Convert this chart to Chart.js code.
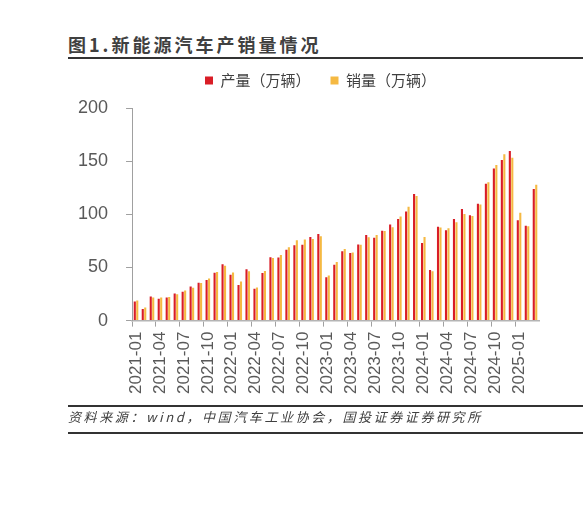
<!DOCTYPE html>
<html lang="zh-CN">
<head>
    <meta charset="UTF-8">
    <title>新能源汽车产销量情况</title>
    <style>
        body {
            margin: 0;
            padding: 0;
            background: #ffffff;
            font-family: "Noto Sans CJK SC", sans-serif;
        }

        .page {
            position: relative;
            width: 588px;
            height: 524px;
            overflow: hidden;
        }

        .title {
            position: absolute;
            left: 68px;
            top: 35px;
            font-size: 18px;
            line-height: 18px;
            font-weight: bold;
            letter-spacing: 3px;
            color: #404040;
            white-space: nowrap;
        }

        .rule {
            position: absolute;
            left: 68px;
            width: 515px;
            background: #333333;
        }

        .source {
            position: absolute;
            left: 68px;
            top: 410px;
            font-size: 13px;
            line-height: 14px;
            font-style: italic;
            letter-spacing: 2.6px;
            color: #404040;
            white-space: nowrap;
        }

        #chart {
            position: absolute;
            left: 0;
            top: 0;
        }
    </style>
</head>
<body>
    <div class="page">
        <div class="title">图1.新能源汽车产销量情况</div>
        <div class="rule" style="top: 57px; height: 2px;"></div>
        <canvas id="chart" width="588" height="524"></canvas>
        <div class="rule" style="top: 405px; height: 2px;"></div>
        <div class="source">资料来源：wind，中国汽车工业协会，国投证券证券研究所</div>
        <div class="rule" style="top: 432px; height: 2px;"></div>
    </div>

    <script src="https://cdn.jsdelivr.net/npm/chart.js"></script>
    <script>
        const months = [
            '2021-01', '2021-02', '2021-03', '2021-04', '2021-05', '2021-06',
            '2021-07', '2021-08', '2021-09', '2021-10', '2021-11', '2021-12',
            '2022-01', '2022-02', '2022-03', '2022-04', '2022-05', '2022-06',
            '2022-07', '2022-08', '2022-09', '2022-10', '2022-11', '2022-12',
            '2023-01', '2023-02', '2023-03', '2023-04', '2023-05', '2023-06',
            '2023-07', '2023-08', '2023-09', '2023-10', '2023-11', '2023-12',
            '2024-01', '2024-02', '2024-03', '2024-04', '2024-05', '2024-06',
            '2024-07', '2024-08', '2024-09', '2024-10', '2024-11', '2024-12',
            '2025-01', '2025-02', '2025-03'
        ];

        // red bars (legend: 产量)
        const redSeries = [
            17.9, 11.0, 22.6, 20.6, 21.7, 25.6, 27.1, 32.1, 35.7, 38.3, 45.0, 53.1,
            43.1, 33.4, 48.4, 29.9, 44.7, 59.6, 59.3, 66.6, 70.8, 71.4, 78.6, 81.4,
            40.8, 52.5, 65.3, 63.6, 71.7, 80.6, 78.0, 84.6, 90.4, 95.6, 102.6, 119.1,
            72.9, 47.7, 88.3, 85.0, 95.5, 104.9, 99.1, 110.0, 128.7, 143.0, 151.2, 159.6,
            94.4, 89.2, 123.7
        ];

        // yellow bars (legend: 销量)
        const yellowSeries = [
            19.0, 12.4, 21.7, 21.7, 22.2, 24.8, 28.4, 30.9, 35.3, 39.7, 45.7, 51.7,
            45.2, 36.8, 46.5, 31.2, 46.6, 59.0, 61.7, 69.1, 75.5, 76.2, 76.8, 79.4,
            42.5, 55.2, 67.4, 64.0, 71.3, 78.4, 80.5, 84.3, 87.9, 98.0, 107.0, 117.2,
            78.7, 46.5, 87.6, 87.0, 92.5, 100.3, 98.4, 109.2, 130.1, 146.3, 156.6, 153.3,
            101.5, 88.8, 127.7
        ];

        const seriesNames = ['产量（万辆）', '销量（万辆）'];
        const yTicks = [0, 50, 100, 150, 200];

        const axisGray = '#a0a0a0';
        const textGray = '#595959';

        // extra room under the legend, and nudge it right a little
        const legendTweak = {
            id: 'legendTweak',
            beforeInit(chart) {
                const legend = chart.legend;
                const fit = legend.fit;
                legend.fit = function () {
                    fit.call(this);
                    this.height += 10;
                };
                const draw = legend.draw;
                legend.draw = function () {
                    this.left += 21;
                    this.right += 21;
                    draw.call(this);
                    this.left -= 21;
                    this.right -= 21;
                };
            }
        };

        const ctx = document.getElementById('chart').getContext('2d');
        const chart = new Chart(ctx, {
            type: 'bar',
            data: {
                labels: months,
                datasets: [
                    {
                        label: seriesNames[0],
                        data: redSeries,
                        backgroundColor: '#D91D26',
                        borderWidth: 0,
                        categoryPercentage: 0.62,
                        barPercentage: 0.85
                    },
                    {
                        label: seriesNames[1],
                        data: yellowSeries,
                        backgroundColor: '#F5B942',
                        borderWidth: 0,
                        categoryPercentage: 0.62,
                        barPercentage: 0.85
                    }
                ]
            },
            plugins: [legendTweak],
            options: {
                responsive: false,
                animation: false,
                layout: {
                    padding: { left: 60, right: 49, top: 53, bottom: 125 }
                },
                plugins: {
                    legend: {
                        display: true,
                        position: 'top',
                        labels: {
                            boxWidth: 8,
                            boxHeight: 8,
                            padding: 20,
                            color: '#404040',
                            font: { family: '"Noto Sans CJK SC"', size: 15 }
                        }
                    },
                    tooltip: { enabled: false }
                },
                scales: {
                    x: {
                        grid: {
                            drawOnChartArea: false,
                            drawTicks: true,
                            tickLength: 6,
                            color: (c) => (c.index % 3 === 0 ? axisGray : 'rgba(0,0,0,0)')
                        },
                        border: { color: '#b4b4b4', width: 1.5 },
                        ticks: {
                            autoSkip: false,
                            minRotation: 90,
                            maxRotation: 90,
                            padding: 5,
                            color: textGray,
                            font: { family: 'Arial, "Liberation Sans"', size: 17 },
                            callback: function (value, index) {
                                return index % 3 === 0 ? months[index] : '';
                            }
                        }
                    },
                    y: {
                        min: yTicks[0],
                        max: yTicks[yTicks.length - 1],
                        grid: {
                            drawOnChartArea: false,
                            drawTicks: true,
                            tickLength: 6,
                            color: axisGray
                        },
                        border: { color: axisGray, width: 1 },
                        afterBuildTicks: (axis) => {
                            axis.ticks = yTicks.map(v => ({ value: v }));
                        },
                        ticks: {
                            padding: 18,
                            color: textGray,
                            font: { family: 'Arial, "Liberation Sans"', size: 18 }
                        }
                    }
                }
            }
        });
    </script>
</body>
</html>
